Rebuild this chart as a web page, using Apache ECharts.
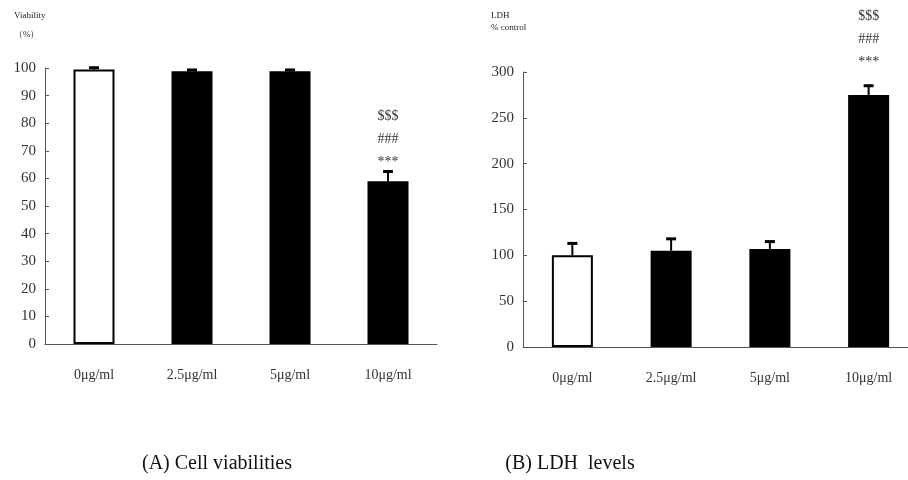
<!DOCTYPE html>
<html>
<head>
<meta charset="utf-8">
<script src="https://cdn.jsdelivr.net/npm/echarts@6/dist/echarts.min.js"></script>
<style>
  html, body { margin: 0; padding: 0; background: #fff; }
  #chart { width: 908px; height: 480px; }
</style>
</head>
<body>
<div id="chart"></div>
<script>
// data
var categories = ['0μg/ml', '2.5μg/ml', '5μg/ml', '10μg/ml'];
var viability = [99.5, 98.8, 98.8, 59];
var viabilityErr = [0.6, 0.5, 0.5, 3.5];
var ldh = [100, 105, 107, 275];
var ldhErr = [13, 13, 8, 10];
var marks = ['', '', '', '$$$\n###\n***'];
var viabilityTicks = { min: 0, max: 100, interval: 10 };
var ldhTicks = { min: 0, max: 300, interval: 50 };

var serif = '"Liberation Serif", "DejaVu Serif", serif';

function barData(vals) {
    var out = [];
    for (var i = 0; i < vals.length; i++) {
        if (i === 0) {
            out.push({ value: vals[i], itemStyle: { color: '#fff', borderColor: '#000', borderWidth: 2 } });
        } else {
            out.push(vals[i]);
        }
    }
    return out;
}

function errData(vals, errs) {
    var out = [];
    for (var i = 0; i < vals.length; i++) {
        out.push([i, vals[i], errs[i]]);
    }
    return out;
}

// error bar + significance marks above it (gap = space between cap and text)
function makeErr(gap) {
    return function (params, api) {
        var x = api.value(0), v = api.value(1), e = api.value(2);
        var base = api.coord([x, v]);
        var top = api.coord([x, v + e]);
        var children = [
            { type: 'line', shape: { x1: base[0], y1: base[1], x2: top[0], y2: top[1] }, style: { stroke: '#000', lineWidth: 2 } },
            { type: 'line', shape: { x1: top[0] - 5, y1: top[1], x2: top[0] + 5, y2: top[1] }, style: { stroke: '#000', lineWidth: 3 } }
        ];
        var t = marks[params.dataIndex];
        if (t) {
            children.push({
                type: 'text',
                style: {
                    text: t, x: top[0], y: top[1] - gap,
                    align: 'center', verticalAlign: 'bottom',
                    fontSize: 14, fontFamily: serif, fill: '#333', lineHeight: 23
                }
            });
        }
        return { type: 'group', children: children };
    };
}

function xAxisCfg(idx) {
    return {
        type: 'category', gridIndex: idx, data: categories,
        axisLine: { lineStyle: { color: '#555', width: 1 } },
        axisTick: { inside: true, length: 5, lineStyle: { color: '#555' } },
        axisLabel: { color: '#333', fontFamily: serif, fontSize: 14, margin: 24 }
    };
}

function yAxisCfg(idx, ticks) {
    return {
        type: 'value', gridIndex: idx,
        min: ticks.min, max: ticks.max, interval: ticks.interval,
        splitLine: { show: false },
        axisLine: { show: true, lineStyle: { color: '#555', width: 1 } },
        axisTick: { show: true, inside: true, length: 4, lineStyle: { color: '#555' } },
        axisLabel: { color: '#333', fontFamily: serif, fontSize: 15, margin: 9 }
    };
}

var myChart = echarts.init(document.getElementById('chart'));
var option = {
    backgroundColor: '#fff',
    animation: false,
    title: [
        { text: 'Viability', left: 9, top: 6, textStyle: { fontFamily: serif, fontSize: 9, fontWeight: 'normal', color: '#222' } },
        { text: '（%）', left: 9, top: 25, textStyle: { fontFamily: serif, fontSize: 9, fontWeight: 'normal', color: '#222' } },
        { text: 'LDH', left: 486, top: 6, textStyle: { fontFamily: serif, fontSize: 9, fontWeight: 'normal', color: '#222' } },
        { text: '% control', left: 486, top: 18, textStyle: { fontFamily: serif, fontSize: 9, fontWeight: 'normal', color: '#222' } },
        { text: '(A) Cell viabilities', left: 212, top: 449, textAlign: 'center', textStyle: { fontFamily: serif, fontSize: 20, fontWeight: 'normal', color: '#111' } },
        { text: '(B) LDH  levels', left: 565, top: 449, textAlign: 'center', textStyle: { fontFamily: serif, fontSize: 20, fontWeight: 'normal', color: '#111' } }
    ],
    grid: [
        { left: 45, top: 68, width: 392, bottom: 136, outerBoundsMode: 'none' },
        { left: 523, top: 72, width: 395, bottom: 133, outerBoundsMode: 'none' }
    ],
    xAxis: [xAxisCfg(0), xAxisCfg(1)],
    yAxis: [yAxisCfg(0, viabilityTicks), yAxisCfg(1, ldhTicks)],
    series: [
        {
            type: 'bar', xAxisIndex: 0, yAxisIndex: 0, barWidth: 41,
            data: barData(viability),
            itemStyle: { color: '#000' }
        },
        {
            type: 'custom', xAxisIndex: 0, yAxisIndex: 0,
            renderItem: makeErr(-2), data: errData(viability, viabilityErr), z: 5
        },
        {
            type: 'bar', xAxisIndex: 1, yAxisIndex: 1, barWidth: 41,
            data: barData(ldh),
            itemStyle: { color: '#000' }
        },
        {
            type: 'custom', xAxisIndex: 1, yAxisIndex: 1,
            renderItem: makeErr(12), data: errData(ldh, ldhErr), z: 5
        }
    ]
};
myChart.setOption(option, true);
</script>
</body>
</html>
